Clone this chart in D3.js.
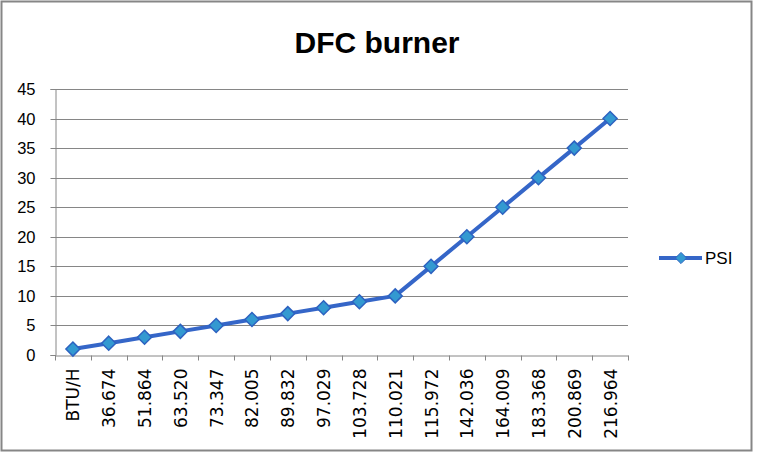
<!DOCTYPE html>
<html>
<head>
<meta charset="utf-8">
<script src="https://cdnjs.cloudflare.com/ajax/libs/d3/7.8.5/d3.min.js"></script>
<style>
body{margin:0;background:#fff;}
svg{display:block;}
</style>
</head>
<body>
<svg id="chart" width="757" height="456"></svg>
<script>
const categories = ["BTU/H","36.674","51.864","63.520","73.347","82.005","89.832","97.029","103.728","110.021","115.972","142.036","164.009","183.368","200.869","216.964"];
const psiValues = [1,2,3,4,5,6,7,8,9,10,15,20,25,30,35,40];
const yTicks = [0,5,10,15,20,25,30,35,40,45];
const seriesName = "PSI";
const titleText = "DFC burner";

const svg = d3.select("#chart");
const W = 757, H = 456;
const m = {left:55, right:129, top:89, bottom:101};

svg.append("rect").attr("x",1.5).attr("y",1.5).attr("width",750).attr("height",449)
  .attr("fill","#fff").attr("stroke","#868686").attr("stroke-width",2);

const x = d3.scaleBand().domain(categories).range([m.left, W - m.right]);
const y = d3.scaleLinear().domain([0,45]).range([H - m.bottom, m.top]);

// gridlines
svg.append("g").selectAll("line").data(yTicks.filter(d=>d>0)).join("line")
  .attr("x1", m.left).attr("x2", W - m.right)
  .attr("y1", d=>Math.round(y(d))+0.5).attr("y2", d=>Math.round(y(d))+0.5)
  .attr("stroke","#868686").attr("stroke-width",1);

// y axis
const yAxis = svg.append("g").attr("transform",`translate(${m.left+0.5},0)`)
  .call(d3.axisLeft(y).tickValues(yTicks).tickSize(5).tickPadding(15));
yAxis.select(".domain").attr("stroke","#868686");
yAxis.selectAll(".tick line").attr("stroke","#868686");
yAxis.selectAll(".tick").attr("transform", d=>`translate(0,${Math.round(y(d))+0.5})`);
yAxis.selectAll("text").attr("font-family","Liberation Sans, Arial, sans-serif").attr("font-size",16.5).attr("fill","#000");

// x axis
const xAxis = svg.append("g").attr("transform",`translate(0,${Math.round(y(0))+0.5})`)
  .call(d3.axisBottom(x).tickSize(0).tickFormat(""));
xAxis.select(".domain").attr("stroke","#868686");
xAxis.selectAll(".tick").remove();
const bounds = categories.map(c=>x(c)).concat([x(categories[categories.length-1]) + x.bandwidth()]);
xAxis.selectAll("line.xt").data(bounds).join("line").attr("class","xt")
  .attr("x1", d=>Math.round(d)+0.5).attr("x2", d=>Math.round(d)+0.5)
  .attr("y1",0).attr("y2",5).attr("stroke","#868686");
xAxis.selectAll("text.xl").data(categories).join("text").attr("class","xl")
  .attr("transform", d=>`translate(${x(d)+x.bandwidth()/2+6.5},13) rotate(-90)`)
  .attr("text-anchor","end")
  .attr("font-family","DejaVu Sans, sans-serif").attr("font-size",17).attr("fill","#000")
  .text(d=>d);

// line
const pts = categories.map((c,i)=>({c, v:psiValues[i]}));
const line = d3.line().x(d=>x(d.c)+x.bandwidth()/2).y(d=>y(d.v));
svg.append("path").datum(pts).attr("d",line).attr("fill","none")
  .attr("stroke","#3566C8").attr("stroke-width",4).attr("stroke-linejoin","round");

const diamond = d3.symbol().type(d3.symbolDiamond2).size(125);
svg.append("g").selectAll("path").data(pts).join("path")
  .attr("d", diamond)
  .attr("transform", d=>`translate(${x(d.c)+x.bandwidth()/2},${y(d.v)})`)
  .attr("fill","#3399D1").attr("stroke","#2D62C0").attr("stroke-width",1.5);

// title
svg.append("text").attr("x",377).attr("y",53).attr("text-anchor","middle")
  .attr("font-family","Liberation Sans, Arial, sans-serif").attr("font-weight","bold")
  .attr("font-size",30).attr("fill","#000").text(titleText);

// legend
const lg = svg.append("g").attr("transform","translate(659,258)");
lg.append("line").attr("x1",0).attr("x2",43).attr("y1",0).attr("y2",0)
  .attr("stroke","#3566C8").attr("stroke-width",4);
lg.append("path").attr("d", d3.symbol().type(d3.symbolDiamond2).size(80)).attr("transform","translate(22,0)")
  .attr("fill","#3399D1").attr("stroke","#2D62C0").attr("stroke-width",1);
lg.append("text").attr("x",46).attr("y",6).attr("font-family","Liberation Sans, Arial, sans-serif")
  .attr("font-size",17).attr("fill","#000").text(seriesName);
</script>
</body>
</html>
